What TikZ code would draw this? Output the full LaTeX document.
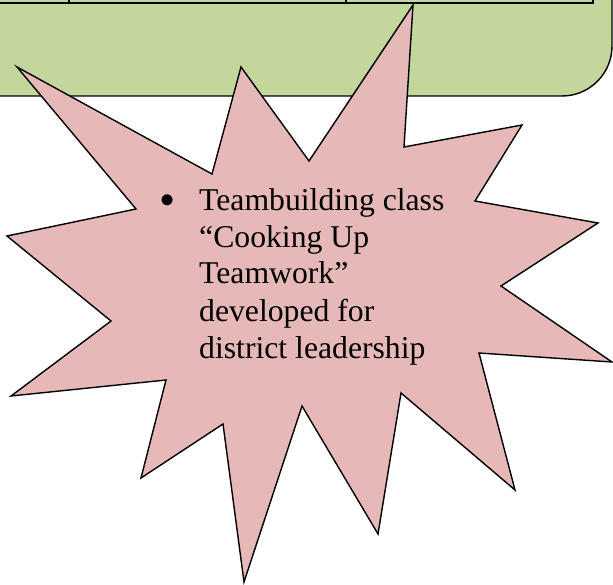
\documentclass[tikz,border=0pt]{standalone}
\usepackage{fontspec}
\setmainfont{Liberation Serif}
\usepackage{xcolor}

\definecolor{boxgreen}{HTML}{C3D69B}
\definecolor{burstpink}{HTML}{E6B9B8}

\tikzset{
	greenbox/.style	= {draw=black, line width=1.4pt, fill=boxgreen, rounded corners=50pt},
	tableline/.style	= {draw=black, line width=1.5pt},
	burst/.style		= {draw=black, line width=1.4pt, fill=burstpink, line join=miter, miter limit=20},
	bursttext/.style	= {inner sep=0pt, align=left, font=\fontsize{31.7}{37}\selectfont},
	burstdot/.style	= {inner sep=0pt, font=\fontsize{46}{46}\selectfont}
}

\begin{document}
\begin{tikzpicture}[x=1pt, y=-1pt]
		\useasboundingbox (0,0) rectangle (613,585);
		\clip (0,0) rectangle (613,585);

		% box behind, with the table on top
		\draw[greenbox] (-80,-80) rectangle (612,96);
		\draw[tableline] (-5,3) -- (593,3) -- (593,-5);
		\draw[tableline] (69,3) -- (69,-5);
		\draw[tableline] (346,3) -- (346,-5);

		% starburst
		\draw[burst] (413,5) -- (404,147) -- (522,125) -- (475,201)
			-- (598,223) -- (501,286) -- (612,362) -- (479,353)
			-- (515,490) -- (401,393) -- (378,534) -- (302,406)
			-- (244,582) -- (223,424) -- (141,478) -- (166,380)
			-- (11,396) -- (111,321) -- (7,236) -- (136,209)
			-- (17,67) -- (212,174) -- (241,67) -- (309,161) -- cycle;

		\node[burstdot, anchor=base west] (dot) at (159,216) {•};
		\node[bursttext, anchor=base west] (txt) at (199,358)
			{Teambuilding class\\“Cooking Up\\Teamwork”\\developed for\\district leadership};

\end{tikzpicture}
\end{document}
